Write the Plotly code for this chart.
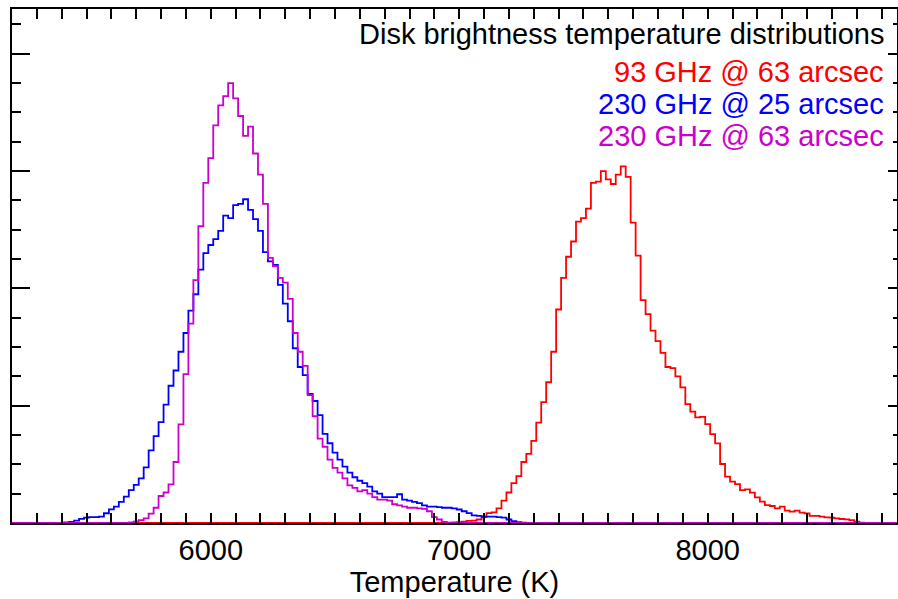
import plotly.graph_objects as go

# ---- data (histogram bin centres in K, values in arbitrary units; y axis unlabeled) ----
temperature_k = list(range(5200, 8780, 20))

red_start = 6960  # 93 GHz @ 63 arcsec
red_values = [0.003, 0.005, 0.008, 0.012, 0.018, 0.02, 0.03, 0.05, 0.085, 0.09,
              0.125, 0.19, 0.26, 0.34, 0.40, 0.52, 0.59, 0.70, 0.855, 1.03,
              1.20, 1.46, 1.82, 2.09, 2.27, 2.40, 2.57, 2.60, 2.68, 2.90,
              2.91, 3.00, 2.93, 2.89, 2.97, 3.04, 2.95, 2.56, 2.28, 1.90,
              1.78, 1.64, 1.55, 1.45, 1.33, 1.32, 1.25, 1.157, 1.014, 0.95,
              0.90, 0.905, 0.843, 0.758, 0.679, 0.503, 0.395, 0.352, 0.332, 0.281,
              0.287, 0.259, 0.219, 0.182, 0.153, 0.145, 0.125, 0.139, 0.105, 0.097,
              0.105, 0.088, 0.082, 0.060, 0.060, 0.054, 0.048, 0.045, 0.040, 0.034,
              0.031, 0.025, 0.011, 0.003]

blue_start = 5420  # 230 GHz @ 25 arcsec
blue_values = [0.005, 0.01, 0.02, 0.035, 0.045, 0.05, 0.05, 0.055, 0.083, 0.117,
               0.14, 0.18, 0.225, 0.28, 0.325, 0.38, 0.475, 0.62, 0.74, 0.86,
               1.01, 1.17, 1.30, 1.46, 1.62, 1.81, 1.95, 2.16, 2.30, 2.37,
               2.42, 2.49, 2.62, 2.60, 2.71, 2.72, 2.76, 2.67, 2.59, 2.49,
               2.31, 2.23, 2.20, 2.03, 1.87, 1.72, 1.49, 1.33, 1.26, 1.10,
               1.04, 0.92, 0.76, 0.68, 0.60, 0.54, 0.48, 0.43, 0.39, 0.36,
               0.34, 0.31, 0.27, 0.25, 0.22, 0.22, 0.22, 0.245, 0.20, 0.19,
               0.18, 0.17, 0.15, 0.14, 0.14, 0.135, 0.13, 0.13, 0.125, 0.115,
               0.10, 0.085, 0.065, 0.06, 0.055, 0.055, 0.054, 0.05, 0.045, 0.03,
               0.015, 0.008, 0.003]

purple_start = 5680  # 230 GHz @ 63 arcsec
purple_values = [0.005, 0.012, 0.025, 0.04, 0.08, 0.13, 0.23, 0.26, 0.33, 0.52,
                 0.84, 1.27, 1.70, 2.07, 2.53, 2.90, 3.11, 3.39, 3.56, 3.64,
                 3.75, 3.62, 3.47, 3.30, 3.38, 3.15, 2.97, 2.72, 2.26, 2.19,
                 2.09, 2.05, 1.91, 1.62, 1.46, 1.34, 1.09, 0.91, 0.72, 0.65,
                 0.54, 0.47, 0.43, 0.38, 0.32, 0.30, 0.27, 0.28, 0.25, 0.22,
                 0.20, 0.20, 0.19, 0.16, 0.15, 0.14, 0.13, 0.13, 0.125, 0.12,
                 0.10, 0.05, 0.03, 0.01]

legend_lines = ["Disk brightness temperature distributions",
                "93 GHz @ 63 arcsec", "230 GHz @ 25 arcsec", "230 GHz @ 63 arcsec"]
legend_colors = ["black", "#ff0000", "#0000ff", "#cc00cc"]
x_tick_vals = [6000, 7000, 8000]
x_tick_text = ["6000", "7000", "8000"]


def full_series(start, values):
    out = []
    for t in temperature_k:
        i = (t - start) // 20
        out.append(values[i] if 0 <= i < len(values) else 0.0)
    return out


FONT = "Liberation Sans, Arial, Helvetica, sans-serif"
FS = 29

fig = go.Figure()
for start, vals, col in [(red_start, red_values, legend_colors[1]),
                         (blue_start, blue_values, legend_colors[2]),
                         (purple_start, purple_values, legend_colors[3])]:
    fig.add_trace(go.Scatter(x=temperature_k, y=full_series(start, vals), mode="lines",
                             line=dict(color=col, width=1.8, shape="hvh"),
                             showlegend=False, hoverinfo="skip"))
# empty trace to activate the right-hand axis
fig.add_trace(go.Scatter(x=[None], y=[None], yaxis="y2", showlegend=False, hoverinfo="skip"))

y_top = 4.382
fig.update_layout(
    width=898, height=599,
    margin=dict(l=12, r=1, t=9, b=76, autoexpand=False),
    paper_bgcolor="white", plot_bgcolor="white",
    font=dict(family=FONT, size=FS, color="black"),
    xaxis=dict(range=[5200, 8762], showgrid=False, zeroline=False, automargin=False,
               showline=True, linecolor="black", linewidth=1.5, mirror="allticks",
               ticks="inside", ticklen=10, tickwidth=1.5, tickcolor="black",
               tickvals=x_tick_vals, ticktext=x_tick_text,
               tickfont=dict(family=FONT, size=FS, color="black"),
               minor=dict(dtick=100, ticks="inside", ticklen=5, tickwidth=1.5, tickcolor="black", showgrid=False),
               title=dict(text="Temperature (K)", font=dict(family=FONT, size=FS, color="black"), standoff=0)),
    yaxis=dict(range=[0, y_top], showgrid=False, zeroline=False, showticklabels=False, automargin=False,
               showline=True, linecolor="black", linewidth=1.5,
               ticks="inside", dtick=1, tick0=0, ticklen=18, tickwidth=1.5, tickcolor="black",
               minor=dict(dtick=0.25, ticks="inside", ticklen=9, tickwidth=1.5, tickcolor="black", showgrid=False)),
    yaxis2=dict(range=[0, y_top], overlaying="y", side="right", showgrid=False, zeroline=False,
                automargin=False,
                showticklabels=False, showline=True, linecolor="black", linewidth=1.5,
                ticks="inside", dtick=1, tick0=0, ticklen=9, tickwidth=1.5, tickcolor="black",
                minor=dict(dtick=0.25, ticks="inside", ticklen=4, tickwidth=1.5, tickcolor="black", showgrid=False)),
)

legend_y = [0.951, 0.877, 0.815, 0.753]
for txt, col, yy in zip(legend_lines, legend_colors, legend_y):
    fig.add_annotation(text=txt, xref="paper", yref="paper", x=0.9876, y=yy,
                       xanchor="right", yanchor="middle", showarrow=False,
                       font=dict(family=FONT, size=FS, color=col))

fig.write_html("out.html", config={"displayModeBar": False},
               post_script="document.body.style.margin='0';document.body.style.overflow='hidden';")
